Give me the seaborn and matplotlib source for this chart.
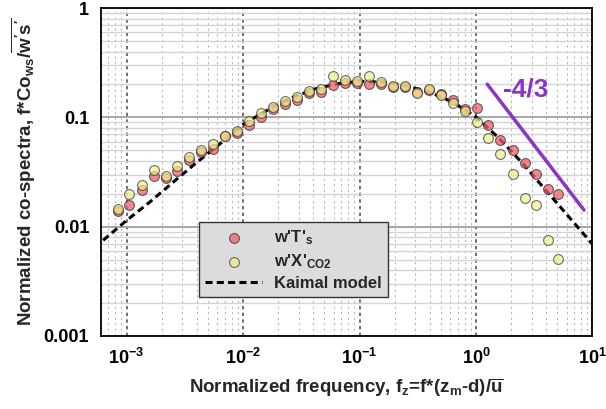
import numpy as np
import pandas as pd
import seaborn as sns
import matplotlib.pyplot as plt
from matplotlib.ticker import FixedLocator, FixedFormatter, LogLocator, NullFormatter

# normalized frequency of the spectral bins
fz = [8.45e-4, 1.05e-3, 1.36e-3, 1.72e-3, 2.18e-3, 2.71e-3, 3.44e-3, 4.36e-3,
      5.52e-3, 7.00e-3, 8.87e-3, 1.13e-2, 1.43e-2, 1.81e-2, 2.30e-2, 2.91e-2,
      3.69e-2, 4.68e-2, 5.93e-2, 7.45e-2, 9.53e-2, 0.121, 0.153, 0.194,
      0.246, 0.312, 0.395, 0.501, 0.635, 0.800, 1.02, 1.28, 1.62, 2.06,
      2.61, 3.30, 4.14, 5.01]

# w'T's co-spectrum
co_wT = [0.0138, 0.0157, 0.0216, 0.0293, 0.0281, 0.0323, 0.041, 0.0484,
         0.0512, 0.067, 0.0716, 0.0859, 0.1015, 0.118, 0.132, 0.144,
         0.168, 0.170, 0.198, 0.204, 0.204, 0.201, 0.201, 0.190,
         0.190, 0.170, 0.178, 0.163, 0.144, 0.120, 0.1217, 0.0859, 0.0622, 0.0505,
         0.0382, 0.0301, 0.0221, 0.0198]

# w'X'CO2 co-spectrum
co_wC = [0.0144, 0.0201, 0.0238, 0.0327, 0.0289, 0.0357, 0.0433, 0.0498,
         0.0565, 0.0678, 0.0757, 0.0933, 0.110, 0.125, 0.1397, 0.154,
         0.175, 0.181, 0.238, 0.219, 0.216, 0.241, 0.212, 0.193,
         0.193, 0.168, 0.180, 0.161, 0.136, 0.1134, 0.0907, 0.065, 0.0465, 0.0301,
         0.0182, 0.0157, 0.00757, 0.00506]

# Kaimal model curve
kaimal_fz = [6.3e-4, 1e-3, 1.585e-3, 2.512e-3, 3.981e-3, 6.31e-3, 1e-2, 1.585e-2,
             2.512e-2, 3.981e-2, 6.31e-2, 0.1, 0.1585, 0.2512, 0.3981, 0.631,
             1.0, 1.585, 2.512, 3.981, 6.31, 10.0]
kaimal_co = [0.0075, 0.0114, 0.0168, 0.0255, 0.0385, 0.057, 0.086, 0.115,
             0.148, 0.180, 0.202, 0.214, 0.210, 0.195, 0.170, 0.138,
             0.101, 0.064, 0.038, 0.0215, 0.0122, 0.0069]

# -4/3 slope guide
slope_x = [1.25, 8.45]
slope_y = [0.201, 0.0142]

xticks = [1e-3, 1e-2, 1e-1, 1e0, 1e1]
xticklabels = ['$10^{-3}$', '$10^{-2}$', '$10^{-1}$', '$10^{0}$', '$10^{1}$']
yticks = [0.001, 0.01, 0.1, 1]
yticklabels = ['0.001', '0.01', '0.1', '1']

sns.set_style("white")
plt.rcParams['font.family'] = ['Liberation Sans', 'DejaVu Sans']
plt.rcParams['font.weight'] = 'bold'
plt.rcParams['mathtext.fontset'] = 'custom'
plt.rcParams['mathtext.rm'] = 'Liberation Sans:bold'
plt.rcParams['mathtext.it'] = 'Liberation Sans:bold'
plt.rcParams['mathtext.bf'] = 'Liberation Sans:bold'
plt.rcParams['mathtext.default'] = 'rm'

fig, ax = plt.subplots(figsize=(6.06, 4.09), dpi=100)
fig.subplots_adjust(left=0.1667, right=0.9777, top=0.9804, bottom=0.1785)
ax.set_xscale('log')
ax.set_yscale('log')

sns.lineplot(x=kaimal_fz, y=kaimal_co, ax=ax, color='black', lw=2.2,
             linestyle=(0, (2.3, 1.4)), label='Kaimal model', zorder=2)
sns.scatterplot(x=fz, y=co_wT, ax=ax, color='#f0606a', edgecolor='#333333',
                linewidth=0.8, s=50, alpha=0.75, label="w'T'$_{s}$", zorder=3)
sns.scatterplot(x=fz, y=co_wC, ax=ax, color='#eef08a', edgecolor='#333333',
                linewidth=0.8, s=50, alpha=0.7, label="w'X'$_{CO2}$", zorder=4)

ax.plot(slope_x, slope_y, color='#8a35c8', lw=2.5, zorder=5)
ax.text(2.65, 0.178, '-4/3', color='#8a35c8', fontsize=19, fontweight='bold',
        family=['Liberation Sans Narrow', 'Liberation Sans'], ha='center', va='center')

ax.set_xlim(6.04e-4, 10)
ax.set_ylim(0.001, 1)

ax.xaxis.set_major_locator(FixedLocator(xticks))
ax.xaxis.set_major_formatter(FixedFormatter(xticklabels))
ax.xaxis.set_minor_locator(LogLocator(base=10, subs=np.arange(2, 10), numticks=30))
ax.xaxis.set_minor_formatter(NullFormatter())
ax.yaxis.set_major_locator(FixedLocator(yticks))
ax.yaxis.set_major_formatter(FixedFormatter(yticklabels))
ax.yaxis.set_minor_locator(LogLocator(base=10, subs=np.arange(2, 10), numticks=30))
ax.yaxis.set_minor_formatter(NullFormatter())

ax.grid(which='major', axis='y', color='#a0a0a0', lw=1.3, ls='-')
ax.grid(which='minor', axis='y', color='#d4d4d4', lw=1.0, ls='-')
ax.grid(which='major', axis='x', color='#555555', lw=1.2, ls=(0, (2, 2)))
ax.grid(which='minor', axis='x', color='#b8b8b8', lw=0.8, ls=(0, (2, 3)))
ax.set_axisbelow(True)

ax.tick_params(which='major', direction='inout', length=10, width=1.2,
               labelsize=13, colors='black')
ax.tick_params(which='minor', length=0)
for sp in ax.spines.values():
    sp.set_color('black')
    sp.set_linewidth(1.3)

ax.set_xlabel("Normalized frequency, f$_z$=f*(z$_m$-d)/$\\overline{u}$",
              fontsize=13.5, fontweight='bold', labelpad=6)
ax.set_ylabel("Normalized co-spectra, f*Co$_{ws}$/$\\overline{w's'}$",
              fontsize=13.5, fontweight='bold', labelpad=4)

handles, labels = ax.get_legend_handles_labels()
order = [1, 2, 0]
leg = ax.legend([handles[i] for i in order], [labels[i] for i in order],
                loc='lower left', bbox_to_anchor=(0.199, 0.118), borderaxespad=0,
                fontsize=12, frameon=True, fancybox=False, facecolor='#dcdcdc',
                edgecolor='#333333', framealpha=1, handlelength=3.4,
                handletextpad=0.7, labelspacing=0.3, borderpad=0.4)
leg.get_frame().set_linewidth(1.0)
for t in leg.get_texts():
    t.set_fontweight('bold')

plt.savefig('out.png', dpi=100)
